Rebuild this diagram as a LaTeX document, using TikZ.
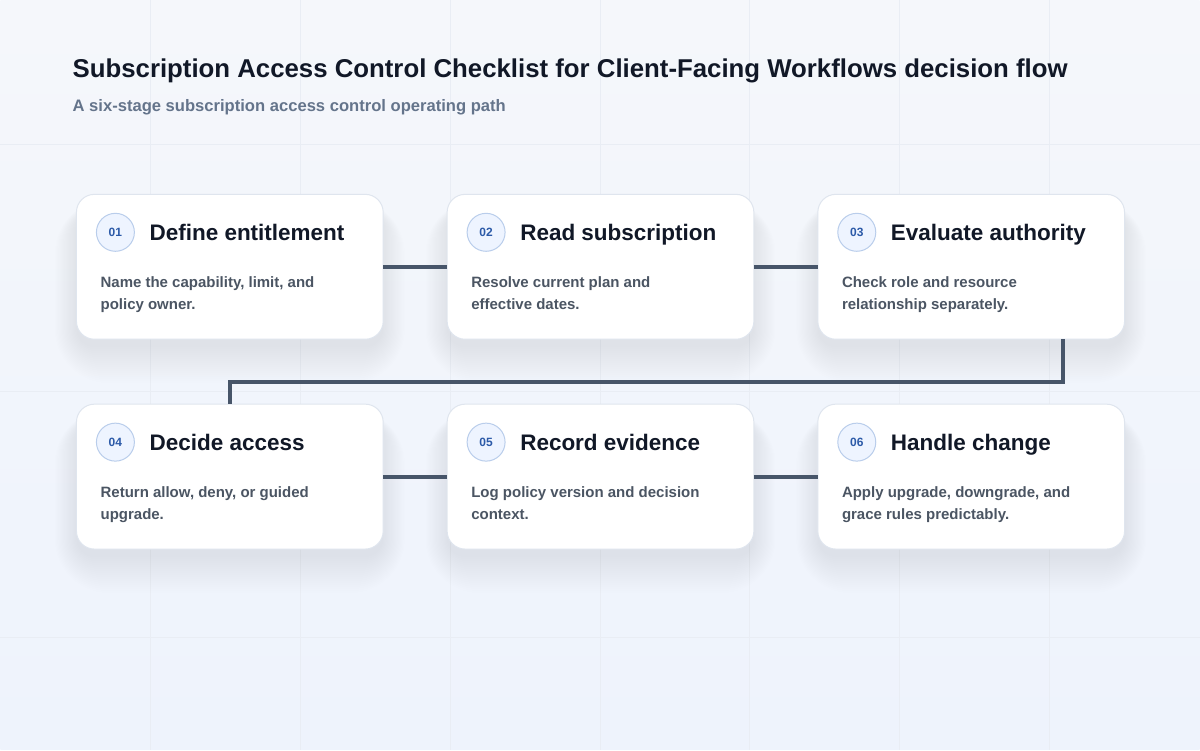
\documentclass[tikz,border=0pt]{standalone}
\usepackage{fontspec}
\setmainfont{Liberation Sans}
\usetikzlibrary{positioning,calc}

\definecolor{bgtop}{HTML}{F5F7FB}
\definecolor{bgbot}{HTML}{EEF3FC}
\definecolor{gridline}{HTML}{E9EDF4}
\definecolor{cardline}{HTML}{DFE5EE}
\definecolor{shadowcol}{HTML}{1E293B}
\definecolor{badgefill}{HTML}{EEF4FF}
\definecolor{badgeline}{HTML}{B9CDEB}
\definecolor{badgetext}{HTML}{2C5AA8}
\definecolor{ink}{HTML}{111827}
\definecolor{bodyink}{HTML}{4B5563}
\definecolor{subink}{HTML}{64748B}
\definecolor{wire}{HTML}{475569}

\pgfdeclarelayer{page}
\pgfdeclarelayer{shade}
\pgfsetlayers{page,shade,main}

\tikzset{
  card/.style={draw=cardline, line width=1pt, fill=white, rounded corners=18pt,
    minimum width=307pt, minimum height=145pt, inner sep=0pt, outer sep=0pt},
  badge/.style={circle, draw=badgeline, line width=1pt, fill=badgefill, minimum size=38pt,
    inner sep=0pt, text=badgetext, font=\fontsize{12}{14}\selectfont\bfseries},
  stagetitle/.style={anchor=base west, inner sep=0pt, text=ink,
    font=\fontsize{22.5}{26}\selectfont\bfseries},
  stagetext/.style={anchor=base west, inner sep=0pt, text=bodyink, align=left,
    font=\fontsize{15}{22}\selectfont\bfseries},
  link/.style={draw=wire, line width=4pt}
}

\begin{document}
\begin{tikzpicture}[x=1pt,y=-1pt]
  % page and faint grid
  \begin{pgfonlayer}{page}
  \shade[top color=bgtop, bottom color=bgbot] (0,0) rectangle (1200,750);
  \foreach \gx in {150,300,...,1050} \draw[gridline, line width=1pt] (\gx,0) -- (\gx,750);
  \foreach \gy in {144,391,638} \draw[gridline, line width=1pt] (0,\gy) -- (1200,\gy);
  \end{pgfonlayer}
  \useasboundingbox (0,0) rectangle (1200,750);

  \node[anchor=base west, inner sep=0pt, text=ink, font=\fontsize{25.8}{30}\selectfont\bfseries] (title) at (72,77)
    {Subscription Access Control Checklist for Client-Facing Workflows decision flow};
  \node[anchor=base west, inner sep=0pt, text=subink, font=\fontsize{16.6}{20}\selectfont\bfseries] (subtitle) at (72,111)
    {A six-stage subscription access control operating path};

  % cards
  \node[card] (c1) at (229.5,266.5) {};
  \node[card, right=64pt of c1] (c2) {};
  \node[card, right=64pt of c2] (c3) {};
  \node[card, below=65pt of c1] (c4) {};
  \node[card, right=64pt of c4] (c5) {};
  \node[card, right=64pt of c5] (c6) {};

  % soft shadows under the cards
  \begin{pgfonlayer}{shade}
  \foreach \c in {c1,c2,c3,c4,c5,c6}
    \foreach \s in {0,2,...,36}
      \fill[shadowcol, opacity=0.0035, rounded corners=18pt+\s pt]
        ($(\c.north west)+(-\s*0.6,16-\s*0.3)$) rectangle ($(\c.south east)+(\s*0.6,8+\s)$);
  \end{pgfonlayer}

  % connectors
  \draw[link] (c1) -- (c2);
  \draw[link] (c2) -- (c3);
  \coordinate (bend) at ($(c3.south east)+(-62,0)$);
  \draw[link] (bend) -- ++(0,43) -| (c4.north);
  \draw[link] (c4) -- (c5);
  \draw[link] (c5) -- (c6);

  % card contents
  \node[badge] (n1) at ($(c1.north west)+(39,38)$) {01};
  \node[stagetitle] (t1) at ($(c1.north west)+(73,46)$) {Define entitlement};
  \node[stagetext] (d1) at ($(c1.north west)+(24,115)$) {Name the capability, limit, and\\policy owner.};

  \node[badge] (n2) at ($(c2.north west)+(39,38)$) {02};
  \node[stagetitle] (t2) at ($(c2.north west)+(73,46)$) {Read subscription};
  \node[stagetext] (d2) at ($(c2.north west)+(24,115)$) {Resolve current plan and\\effective dates.};

  \node[badge] (n3) at ($(c3.north west)+(39,38)$) {03};
  \node[stagetitle] (t3) at ($(c3.north west)+(73,46)$) {Evaluate authority};
  \node[stagetext] (d3) at ($(c3.north west)+(24,115)$) {Check role and resource\\relationship separately.};

  \node[badge] (n4) at ($(c4.north west)+(39,38)$) {04};
  \node[stagetitle] (t4) at ($(c4.north west)+(73,46)$) {Decide access};
  \node[stagetext] (d4) at ($(c4.north west)+(24,115)$) {Return allow, deny, or guided\\upgrade.};

  \node[badge] (n5) at ($(c5.north west)+(39,38)$) {05};
  \node[stagetitle] (t5) at ($(c5.north west)+(73,46)$) {Record evidence};
  \node[stagetext] (d5) at ($(c5.north west)+(24,115)$) {Log policy version and decision\\context.};

  \node[badge] (n6) at ($(c6.north west)+(39,38)$) {06};
  \node[stagetitle] (t6) at ($(c6.north west)+(73,46)$) {Handle change};
  \node[stagetext] (d6) at ($(c6.north west)+(24,115)$) {Apply upgrade, downgrade, and\\grace rules predictably.};
\end{tikzpicture}
\end{document}
